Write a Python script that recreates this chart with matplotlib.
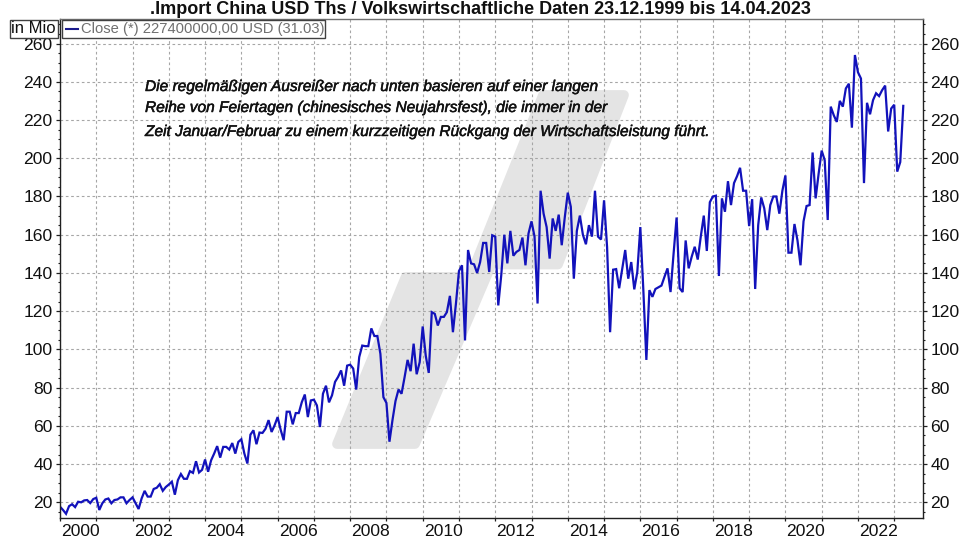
import numpy as np
import matplotlib
matplotlib.use("Agg")
import matplotlib.pyplot as plt
import matplotlib.patheffects as pe
from matplotlib.patches import PathPatch, Rectangle
from matplotlib.path import Path
from matplotlib.ticker import MultipleLocator, FixedLocator

plt.rcParams['font.family'] = ['Liberation Sans', 'DejaVu Sans']

START_YEAR = 2000
v2000 = [17.7,16,14,18,19,17.5,20.3,20,21,21.2,19.6,21.7]
v2001 = [22.4,16,19.5,21.5,22,19.5,21.2,21.5,22.6,22.6,19.5,21.2]
v2002 = [22.6,19.5,16.5,22,26,23,23,27,27.6,29.5,26,28]
v2003 = [29.3,30.8,24,31.6,34.8,32.3,32.3,36.3,35.4,41.5,35.6,37]
v2004 = [42.4,36,42,45.5,49.4,43.4,49,49,47.6,51,45.5,51.6]
v2005 = [53,45.5,40.3,55.4,57.7,50.4,56.5,56.3,58.5,63,56.8,60.3]
v2006 = [64.6,58,52.5,67.4,67.4,60.8,66.7,66.7,72.4,76.4,64.6,73.3]
v2007 = [73.7,70.7,59.4,76.8,81,72.3,76,83,85.6,89,81,91.5]
v2008 = [92,90,79,96,102,101.7,101.7,111,107,107,97.7,75]
v2009 = [72,51.7,63,73,79,76.8,85.4,94.5,88.6,103,87,93.3]
v2010 = [112,96.8,87.7,119.5,118.6,112.5,117,117,119.5,128,109,124]
v2011 = [141,144,104.7,152,145,144.5,140,145.7,155.7,155.7,140.5,159.7]
v2012 = [159,123,139,160,145,162,149,151,152,158.5,144,160.6]
v2013 = [167,159,124,183,171,164,147.5,168.5,162,170.5,154.5,169]
v2014 = [182,174.6,137,162,170,160,155,165,159,183,159,157.5]
v2015 = [178,153.6,109,141.7,142,132,142,152,137,145.7,131.4,140.5]
v2016 = [164,131,94.5,131,127.5,131.6,132.5,133.4,138,142.4,130,150]
v2017 = [169,132,130,157,142.4,148.5,153.7,147,159,170,151.5,177]
v2018 = [180,180.4,138.4,179,172,188,175.5,187,190.6,195,183,183]
v2019 = [164.5,178.6,131.6,165,179.5,173.8,162.4,175.5,180,180,171,183]
v2020 = [191,150.6,150.6,165.6,157,144,167,175,175.5,203,179,192]
v2021 = [204,199,167.7,227,222.5,219,230,227,236.5,239,216,254]
v2022 = [245,241.7,187,229,223,230.4,234,232.5,235.6,238,214,226]
v2023 = [228,193,198,227.4]

values = np.array(v2000+v2001+v2002+v2003+v2004+v2005+v2006+v2007+v2008+v2009+v2010+v2011
                  +v2012+v2013+v2014+v2015+v2016+v2017+v2018+v2019+v2020+v2021+v2022+v2023)
years = START_YEAR + np.arange(len(values)) / 12

title = ".Import China USD Ths / Volkswirtschaftliche Daten 23.12.1999 bis 14.04.2023"
legend_label = "Close (*) 227400000,00 USD (31.03)"
unit_label = "in Mio"
note_lines = ["Die regelmäßigen Ausreißer nach unten basieren auf einer langen",
              "Reihe von Feiertagen (chinesisches Neujahrsfest), die immer in der",
              "Zeit Januar/Februar zu einem kurzzeitigen Rückgang der Wirtschaftsleistung führt."]
year_ticks = list(range(2000, 2024))
y_major = list(range(20, 261, 20))

W, H = 960, 540
L, R, T, B = 60, 922.7, 18.7, 518
fig = plt.figure(figsize=(W/100, H/100), dpi=100, facecolor='white')
ax = fig.add_axes([L/W, 1-B/H, (R-L)/W, (B-T)/H])
ax.set_xlim(2000, 2000 + (R-L)/36.27)
ax.set_ylim(11.8, 273)

def P(x, y):
    return (x/W, 1-y/H)

# grey watermark behind the data (pixel outline, rounded by a thick stroke)
outline = [(337,444),(415,444),(491.6,264.5),(558,264.5),(624,95),(543,95),(470,277),(405.6,277)]
pts = [P(*p) for p in outline]
ax.add_patch(PathPatch(Path(pts + [pts[0]], closed=True), transform=fig.transFigure,
                       fc='#e4e4e4', ec='#e4e4e4', lw=7, joinstyle='round', zorder=0, clip_on=False))

ax.xaxis.set_major_locator(FixedLocator(year_ticks))
ax.yaxis.set_major_locator(FixedLocator(y_major))
ax.yaxis.set_minor_locator(MultipleLocator(5))
ax.grid(True, which='major', color='#a6a6a6', ls=(0, (2.4, 2.4)), lw=0.8, zorder=1)
ax.set_axisbelow(False)

ax.plot(years, values, color='#1212bb', lw=1.6, solid_joinstyle='miter', zorder=3)

for s in ax.spines.values():
    s.set_color('#202020'); s.set_linewidth(1.0); s.set_zorder(4)
ax.spines['top'].set_color('#707070')

ax.tick_params(axis='y', which='major', left=True, right=True, labelleft=True, labelright=True,
               length=3, width=0.9, labelsize=12.6, pad=2.4, color='#202020', labelcolor='#101010')
ax.tick_params(axis='y', which='minor', left=True, right=True, length=1.6, width=0.8, color='#202020')
ax.tick_params(axis='x', which='major', length=2.5, width=0.9, labelbottom=False, color='#202020')

for yr in year_ticks:
    if yr % 2 == 0:
        ax.annotate(str(yr), xy=(yr, 0), xycoords=ax.get_xaxis_transform(),
                    xytext=(0.8, -4.6), textcoords='offset points', ha='left', va='top',
                    fontsize=12.6, color='#101010', annotation_clip=False)

# title and header boxes
fig.text(480/W, 1-14.5/H, title, ha='center', va='baseline', fontsize=12.95, fontweight='bold', color='#101010')
fig.add_artist(Rectangle(P(9.5, 37.5), 48.5/W, 18/H, transform=fig.transFigure, fc='white', ec='#404040', lw=1, zorder=5))
fig.text(33.5/W, 1-28.5/H, unit_label, ha='center', va='center', fontsize=12, color='#101010', zorder=6)
fig.add_artist(Rectangle(P(62, 37.5), 263/W, 18/H, transform=fig.transFigure, fc='white', ec='#404040', lw=1, zorder=5))
fig.add_artist(plt.Line2D([66/W, 78/W], [1-28.5/H]*2, color='#1a1a8c', lw=1.5, transform=fig.transFigure, zorder=6))
fig.text(81/W, 1-28.5/H, legend_label, ha='left', va='center', fontsize=10.6, color='#707070', zorder=6)

# note
for line, y in zip(note_lines, (87, 108, 132)):
    t = fig.text(145/W, 1-y/H, line, ha='left', va='center', fontsize=11.15, style='italic', color='#111111', zorder=6)
    t.set_path_effects([pe.withStroke(linewidth=0.35, foreground='#111111')])

fig.savefig('out.png', dpi=100, facecolor='white')
